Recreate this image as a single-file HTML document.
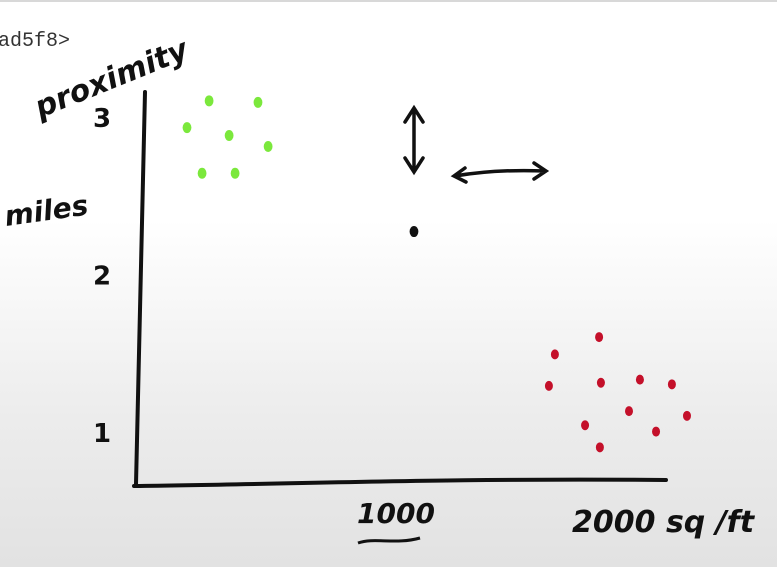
<!DOCTYPE html>
<html><head><meta charset="utf-8">
<style>
html,body{margin:0;padding:0;}
body{width:777px;height:567px;overflow:hidden;background:linear-gradient(to bottom,#ffffff 0px,#ffffff 220px,#ececec 420px,#e2e2e2 567px);font-family:"Liberation Sans",sans-serif;}
svg{position:absolute;left:0;top:0;}
.hand{font-family:"DejaVu Sans","Liberation Sans",sans-serif;fill:#111;font-weight:bold;}
</style></head>
<body>
<svg id="chart" width="777" height="567">
  <rect x="0" y="0" width="777" height="2" fill="#d8d8d8"/>
  <text x="-2" y="46" font-family="Liberation Mono, monospace" font-size="20" fill="#333">ad5f8&gt;</text>
  <text class="hand" x="40" y="118" font-size="30" transform="rotate(-22 40 118)" font-style="italic">proximity</text>
  <text class="hand" x="6" y="226" font-size="28" font-style="italic" transform="rotate(-8 6 226)">miles</text>
  <path d="M145 92 C143 200,140 330,136 484" stroke="#111" stroke-width="4" fill="none" stroke-linecap="round"/>
  <path d="M134 486 C300 484,450 478,666 480" stroke="#111" stroke-width="4" fill="none" stroke-linecap="round"/>
  <g id="yticks"></g>
  <text class="hand" x="357" y="523" font-size="28" font-style="italic">1000</text>
  <path d="M358 543 C375 537,395 545,420 538" stroke="#111" stroke-width="3" fill="none"/>
  <text class="hand" x="572" y="532" font-size="30" font-style="italic">2000 sq /ft</text>
  <path d="M414 110 L414 170 M405 122 L414 108 L423 122 M405 158 L414 172 L423 158" stroke="#111" stroke-width="3.5" fill="none" stroke-linecap="round"/>
  <path d="M455 176 C490 170,520 170,545 171 M465 168 L454 176 L466 182 M534 163 L546 171 L534 179" stroke="#111" stroke-width="3.5" fill="none" stroke-linecap="round"/>
  <g id="points"></g>
</svg>
<script>
const yTickLabels=["1","2","3"];
const yTickValues=[1,2,3];
const greenX=[200,285,473,362,512,258,385];
const greenY=[2.92,3.09,3.08,2.87,2.80,2.63,2.63];
const redX=[1785,1615,1592,1792,1942,2065,1900,2123,1731,2004,1788];
const redY=[1.59,1.48,1.28,1.30,1.32,1.29,1.12,1.09,1.03,0.99,0.89];
const queryX=[1073];
const queryY=[2.26];
const NS="http://www.w3.org/2000/svg";
function xs(v){return 135+v*0.26;}
function ys(v){return 430-(v-1)*157.5;}
const yt=document.getElementById('yticks');
yTickValues.forEach((v,i)=>{
  const t=document.createElementNS(NS,'text');
  t.setAttribute('x',93);t.setAttribute('y',ys(v)+12);
  t.setAttribute('font-size','26');t.setAttribute('class','hand');
  t.textContent=yTickLabels[i];
  
  
  yt.appendChild(t);
});
const g=document.getElementById('points');
function draw(xsArr,ysArr,color,r,name){
  xsArr.forEach((x,i)=>{
    const c=document.createElementNS(NS,'ellipse');
    c.setAttribute('cx',xs(x));c.setAttribute('cy',ys(ysArr[i]));
    c.setAttribute('rx',r*0.8);c.setAttribute('ry',r);
    c.setAttribute('fill',color);
    
    
    g.appendChild(c);
  });
}
draw(greenX,greenY,'#7be83c',5.5,'green-point');
draw(redX,redY,'#c4102a',5,'red-point');
draw(queryX,queryY,'#111',5.5,'query-point');
</script>
</body></html>
